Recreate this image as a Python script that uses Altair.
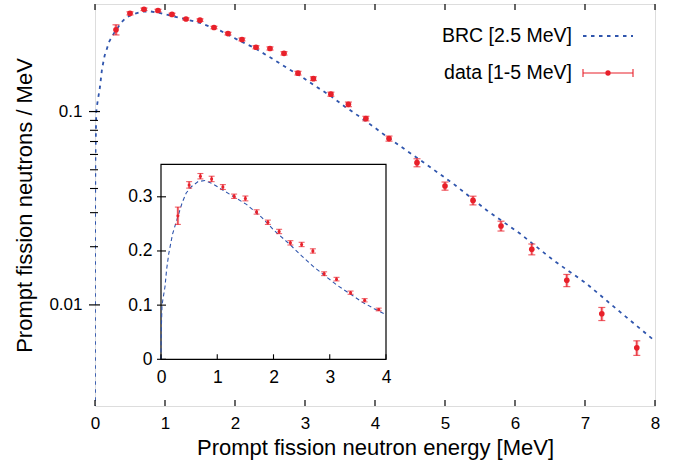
import altair as alt
import pandas as pd

# ---------------- data ----------------
curve_E = [0.0, 0.00001, 0.00002, 0.0002, 0.002, 0.006, 0.018, 0.033, 0.071, 0.10, 0.138,
           0.205, 0.28, 0.376, 0.448, 0.543, 0.66, 0.78, 0.92, 1.09, 1.28, 1.52,
           1.79, 2.02, 2.26, 2.50, 2.71, 2.93, 3.14, 3.36, 3.57, 3.79, 4.00, 4.21,
           4.38, 4.69, 5.12, 5.60, 6.07, 6.55, 7.02, 7.50, 8.00]
curve_v = [0.0, 0.0024, 0.0033, 0.0105, 0.033, 0.058, 0.100, 0.110, 0.134, 0.166, 0.195,
           0.231, 0.257, 0.289, 0.307, 0.319, 0.328, 0.330, 0.324, 0.313, 0.301, 0.286,
           0.262, 0.237, 0.215, 0.191, 0.171, 0.153, 0.136, 0.121, 0.106, 0.0935, 0.0824, 0.0723,
           0.0655, 0.0547, 0.0423, 0.0308, 0.0234, 0.0170, 0.0129, 0.0092, 0.0065]

data_E = [0.30, 0.50, 0.70, 0.90, 1.10, 1.30, 1.50, 1.70, 1.90, 2.10, 2.30, 2.50, 2.70,
          2.90, 3.12, 3.37, 3.62, 3.87, 4.20, 4.60, 5.00, 5.40, 5.80, 6.24, 6.74, 7.24, 7.74]
data_v = [0.265, 0.322, 0.338, 0.333, 0.318, 0.301, 0.297, 0.272, 0.253, 0.236, 0.215, 0.212, 0.200,
          0.158, 0.148, 0.123, 0.109, 0.092, 0.0725, 0.0544, 0.0412, 0.0347, 0.0256, 0.0194, 0.0134,
          0.0090, 0.0060]
data_err = [0.016, 0.006, 0.005, 0.005, 0.0045, 0.004, 0.0045, 0.004, 0.004, 0.004, 0.004, 0.004, 0.004,
            0.0035, 0.0033, 0.003, 0.003, 0.0025, 0.0022, 0.0026, 0.0020, 0.0018, 0.0015, 0.00125, 0.00097,
            0.0007, 0.00052]

main_x_ticks = [0, 1, 2, 3, 4, 5, 6, 7, 8]
main_y_major = [0.01, 0.1]
main_y_minor = [0.02, 0.03, 0.04, 0.05, 0.06, 0.07, 0.08, 0.09]
main_x_domain = [0, 8]
main_y_domain = [0.003, 0.36]

inset_x_ticks = [0, 1, 2, 3, 4]
inset_y_ticks = [0, 0.1, 0.2, 0.3]
inset_x_domain = [0, 4]
inset_y_domain = [0, 0.36]

legend_labels = ["BRC [2.5 MeV]", "data [1-5 MeV]"]
x_title = "Prompt fission neutron energy [MeV]"
y_title = "Prompt fission neutrons / MeV"

# ---------------- layout / style ----------------
FONT = "Liberation Sans"
BLUE = "#2f55ad"
RED = "#e8202a"
PINK = "#f07078"
W, H = 560, 402
# inset placement inside the plot area (pixels)
IN_L, IN_R, IN_B, IN_T = 66, 291, 355.3, 160.3

curve_df = pd.DataFrame({"E": curve_E, "v": curve_v})
curve_log = curve_df[curve_df.v > 0]
curve_in = curve_df[curve_df.E <= inset_x_domain[1]]
pts = pd.DataFrame({"E": data_E, "v": data_v, "err": data_err})
pts["lo"] = pts.v - pts.err
pts["hi"] = pts.v + pts.err
pts_in = pts[pts.E <= inset_x_domain[1]]

xs_main = alt.Scale(domain=main_x_domain, nice=False, zero=False)
ys_main = alt.Scale(type="log", domain=main_y_domain, nice=False)
ax_mx = alt.Axis(values=main_x_ticks, ticks=False, domain=False, grid=False, labelFontSize=17,
                 labelPadding=9, title=x_title, titleFontSize=22, titleFontWeight="normal",
                 titlePadding=6, labelFlush=False)
ax_my = alt.Axis(values=main_y_major, format="~g", ticks=False, domain=False, grid=False,
                 labelFontSize=17, labelPadding=13, title=y_title, titleFontSize=22,
                 titleFontWeight="normal", titlePadding=12)


def MX(f):
    return alt.X(f, type="quantitative", scale=xs_main, axis=ax_mx)


def MY(f):
    return alt.Y(f, type="quantitative", scale=ys_main, axis=ax_my)


main_curve = alt.Chart(curve_log).mark_line(color=BLUE, strokeWidth=1.8, strokeDash=[3.5, 4.5],
                                            clip=True).encode(x=MX("E"), y=MY("v"))
m_err_pink = alt.Chart(pts).mark_rule(color=PINK, strokeWidth=3, opacity=0.55).encode(
    x=MX("E"), y=MY("lo"), y2="hi")
m_err = alt.Chart(pts).mark_rule(color=RED, strokeWidth=1.1).encode(x=MX("E"), y=MY("lo"), y2="hi")
m_cap_lo = alt.Chart(pts).mark_tick(color=RED, orient="horizontal", size=7, thickness=1.2).encode(
    x=MX("E"), y=MY("lo"))
m_cap_hi = alt.Chart(pts).mark_tick(color=RED, orient="horizontal", size=7, thickness=1.2).encode(
    x=MX("E"), y=MY("hi"))
m_pts = alt.Chart(pts).mark_circle(color=RED, size=32, opacity=1).encode(x=MX("E"), y=MY("v"))

xt = pd.DataFrame({"E": main_x_ticks})
m_xt_bot = alt.Chart(xt).mark_rule(color="black", strokeWidth=1.2).encode(
    x=MX("E"), y=alt.value(H), y2=alt.value(H - 6))
m_xt_top = alt.Chart(xt).mark_rule(color="black", strokeWidth=1.2).encode(
    x=MX("E"), y=alt.value(0), y2=alt.value(6))
m_yt_maj = alt.Chart(pd.DataFrame({"v": main_y_major})).mark_rule(color="black", strokeWidth=1.2).encode(
    y=MY("v"), x=alt.value(-6), x2=alt.value(5))
m_yt_min = alt.Chart(pd.DataFrame({"v": main_y_minor})).mark_rule(color="black", strokeWidth=1.1).encode(
    y=MY("v"), x=alt.value(-5), x2=alt.value(3))

# legend (drawn manually to mimic gnuplot key)
leg_df = pd.DataFrame({"t": legend_labels})
leg_t1 = alt.Chart(leg_df.iloc[[0]]).mark_text(align="right", baseline="middle", font=FONT,
                                               fontSize=19.5, color="black").encode(
    text="t:N", x=alt.value(477), y=alt.value(32))
leg_t2 = alt.Chart(leg_df.iloc[[1]]).mark_text(align="right", baseline="middle", font=FONT,
                                               fontSize=19.5, color="black").encode(
    text="t:N", x=alt.value(477), y=alt.value(69))
leg_l1 = alt.Chart(leg_df.iloc[[0]]).mark_rule(color=BLUE, strokeWidth=1.8, strokeDash=[3.5, 4.5]).encode(
    x=alt.value(488), x2=alt.value(538), y=alt.value(32))
leg_l2 = alt.Chart(leg_df.iloc[[1]]).mark_rule(color=RED, strokeWidth=1.1).encode(
    x=alt.value(488), x2=alt.value(538), y=alt.value(69))
leg_c1 = alt.Chart(leg_df.iloc[[1]]).mark_rule(color=RED, strokeWidth=1.1).encode(
    x=alt.value(488), y=alt.value(65), y2=alt.value(73))
leg_c2 = alt.Chart(leg_df.iloc[[1]]).mark_rule(color=RED, strokeWidth=1.1).encode(
    x=alt.value(538), y=alt.value(65), y2=alt.value(73))
leg_p = alt.Chart(leg_df.iloc[[1]]).mark_circle(color=RED, size=28, opacity=1).encode(
    x=alt.value(513), y=alt.value(69))

main = alt.layer(main_curve, m_err_pink, m_err, m_cap_lo, m_cap_hi, m_pts,
                 m_xt_bot, m_xt_top, m_yt_maj, m_yt_min,
                 leg_l1, leg_l2, leg_c1, leg_c2, leg_p, leg_t1, leg_t2)

# ---------------- inset ----------------
xs_in = alt.Scale(domain=inset_x_domain, range=[IN_L, IN_R], nice=False, zero=False)
ys_in = alt.Scale(domain=inset_y_domain, range=[IN_B, IN_T], nice=False)
ax_ix = alt.Axis(values=inset_x_ticks, orient="bottom", offset=-(H - IN_B), ticks=False, domain=False,
                 grid=False, labelFontSize=17.5, labelPadding=9, title=None, labelFlush=False)
ax_iy = alt.Axis(values=inset_y_ticks, format="~g", orient="left", offset=-IN_L, ticks=False,
                 domain=False, grid=False, labelFontSize=17.5, labelPadding=9, title=None)


def IX(f):
    return alt.X(f, type="quantitative", scale=xs_in, axis=ax_ix)


def IY(f):
    return alt.Y(f, type="quantitative", scale=ys_in, axis=ax_iy)


frame_df = pd.DataFrame({"x0": [inset_x_domain[0]], "x1": [inset_x_domain[1]],
                         "y0": [inset_y_domain[0]], "y1": [inset_y_domain[1]]})
i_frame = alt.Chart(frame_df).mark_rect(fill="white", stroke="black", strokeWidth=1.2).encode(
    x=IX("x0"), x2="x1", y=IY("y0"), y2="y1")
i_curve = alt.Chart(curve_in).mark_line(color=BLUE, strokeWidth=1.1, strokeDash=[4, 3]).encode(
    x=IX("E"), y=IY("v"))
i_err_pink = alt.Chart(pts_in).mark_rule(color=PINK, strokeWidth=2.6, opacity=0.5).encode(
    x=IX("E"), y=IY("lo"), y2="hi")
i_err = alt.Chart(pts_in).mark_rule(color=RED, strokeWidth=1.1).encode(x=IX("E"), y=IY("lo"), y2="hi")
i_cap_lo = alt.Chart(pts_in).mark_tick(color=RED, orient="horizontal", size=6, thickness=1.1).encode(
    x=IX("E"), y=IY("lo"))
i_cap_hi = alt.Chart(pts_in).mark_tick(color=RED, orient="horizontal", size=6, thickness=1.1).encode(
    x=IX("E"), y=IY("hi"))
i_pts = alt.Chart(pts_in).mark_circle(color=RED, size=9, opacity=1).encode(x=IX("E"), y=IY("v"))
i_xt = alt.Chart(pd.DataFrame({"E": inset_x_ticks})).mark_rule(color="black", strokeWidth=1.1).encode(
    x=IX("E"), y=alt.value(IN_B), y2=alt.value(IN_B - 5))
i_yt = alt.Chart(pd.DataFrame({"v": inset_y_ticks})).mark_rule(color="black", strokeWidth=1.1).encode(
    y=IY("v"), x=alt.value(IN_L - 4), x2=alt.value(IN_L + 5))

inset = alt.layer(i_frame, i_curve, i_err_pink, i_err, i_cap_lo, i_cap_hi, i_pts, i_xt, i_yt)

chart = alt.layer(main, inset).resolve_scale(x="independent", y="independent").properties(
    width=W, height=H,
    autosize=alt.AutoSizeParams(type="none"),
    padding={"left": 95, "top": 4, "right": 26, "bottom": 57},
).configure_view(stroke="black", strokeWidth=1.3).configure_axis(
    labelFont=FONT, titleFont=FONT, labelColor="black", titleColor="black", grid=False
).configure(background="white")

chart.save("out.html", embed_options={"renderer": "svg", "actions": False})
